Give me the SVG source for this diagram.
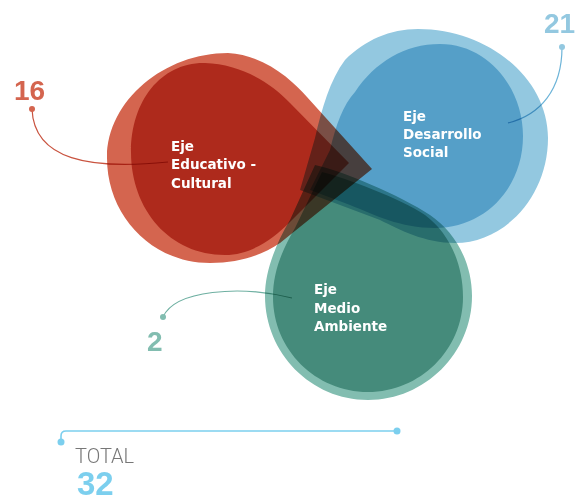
<svg xmlns="http://www.w3.org/2000/svg" width="583" height="501" viewBox="0 0 583 501">
<style>
.blob{mix-blend-mode:multiply}
.lbl{font-family:"DejaVu Sans","Liberation Sans",sans-serif;font-weight:bold;font-size:13.5px;fill:#fff}
.num{font-family:"Liberation Sans",Arial,sans-serif;font-weight:bold;font-size:28px}
.conn path{fill:none;stroke-width:1.2;mix-blend-mode:multiply}
</style>
<rect width="583" height="501" fill="#fff"/>
<g id="eje-educativo" class="blob">
<path fill="#D4654F" d="M372,169 L307,97 C293,81 265,55 228,53 C165,53 107,100 107,158 C107,216 152,263 210,263 C240,263 262,255 280,243 Z"/>
<path fill="#AE2A1C" d="M349,163 L290,103 C270,82 240,64 205,63 C162,62 131,100 131,152 C131,210 170,255 225,255 C250,255 272,240 290,222 Z"/>
</g>
<g id="eje-desarrollo" class="blob">
<path fill="#93C8E0" d="M300,190 L315,138 C322,108 330,80 345,60 C365,40 390,29 418,29 C488,29 548,78 548,138 C548,196 505,243 455,243 C425,243 400,230 380,220 Z"/>
<path fill="#559FC8" d="M310,190 L330,150 C336,125 343,105 355,92 C375,62 405,44 440,44 C488,44 523,88 523,136 C523,188 485,228 435,228 C400,228 375,215 350,205 Z"/>
</g>
<g id="eje-medio" class="blob">
<path fill="#82BDB0" d="M315,165 C340,170 400,195 430,215 C455,232 472,262 472,296 C472,353 425,400 368,400 C311,400 265,353 265,296 C265,272 275,245 290,220 Z"/>
<path fill="#458B7B" d="M322,172 C345,178 400,198 425,215 C448,232 463,262 463,297 C463,350 420,392 368,392 C316,392 273,350 273,297 C273,272 282,250 295,228 Z"/>
</g>
<g id="connectors" class="conn">
<path stroke="#C9533F" d="M32,109 C34,160 90,170 168,162"/>
<path stroke="#6DB4D8" d="M562,47 C562,90 540,115 508,123"/>
<path stroke="#6FB0A2" d="M163,317 C175,290 240,285 292,298"/>
<circle cx="32" cy="109" r="3" fill="#D4654F"/>
<circle cx="562" cy="47" r="3" fill="#93C8E0"/>
<circle cx="163" cy="317" r="3" fill="#82BDB0"/>
</g>
<g id="labels">
<text class="lbl" x="171" y="150.5">Eje</text>
<text class="lbl" x="171" y="169">Educativo -</text>
<text class="lbl" x="171" y="187.5">Cultural</text>
<text class="lbl" x="403" y="120.7">Eje</text>
<text class="lbl" x="403" y="139">Desarrollo</text>
<text class="lbl" x="403" y="157.3">Social</text>
<text class="lbl" x="314" y="294">Eje</text>
<text class="lbl" x="314" y="312.5">Medio</text>
<text class="lbl" x="314" y="331">Ambiente</text>
<text class="num" x="14" y="99.5" fill="#D4654F">16</text>
<text class="num" x="544" y="33" fill="#93C8E0">21</text>
<text class="num" x="147" y="351" fill="#82BDB0">2</text>
</g>
<g id="total">
<path d="M61,442 L61,436 Q61,431 66,431 L397,431" fill="none" stroke="#7CCFEE" stroke-width="1.6"/>
<circle cx="61" cy="442" r="3.5" fill="#7CCFEE"/>
<circle cx="397" cy="431" r="3.5" fill="#7CCFEE"/>
<text x="75" y="463" font-family="Roboto,'Liberation Sans',sans-serif" font-weight="300" font-size="20" fill="#777">TOTAL</text>
<text x="77" y="495" font-family="'Liberation Sans',Arial,sans-serif" font-weight="bold" font-size="33" fill="#7CCFEE">32</text>
</g>
</svg>
